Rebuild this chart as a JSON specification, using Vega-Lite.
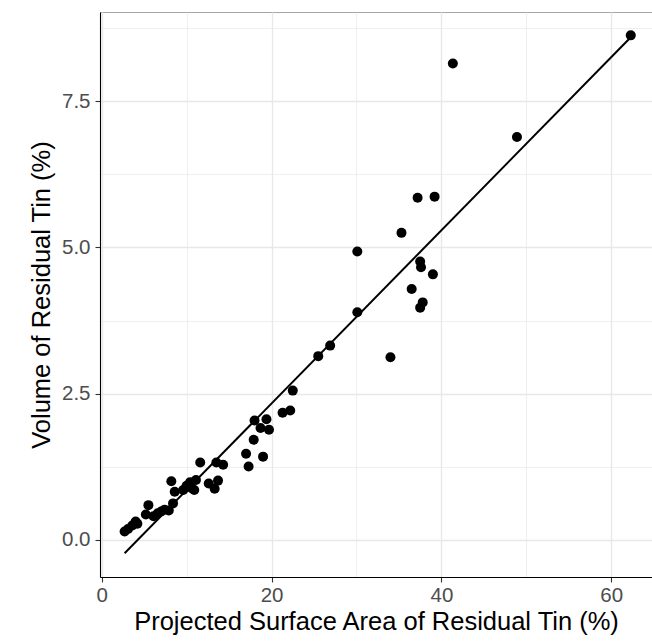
{
  "$schema": "https://vega.github.io/schema/vega-lite/v6.json",
  "width": 552,
  "height": 565,
  "autosize": {"type": "none"},
  "padding": {"left": 100, "top": 12, "right": 0, "bottom": 64},
  "background": "white",
  "config": {
    "font": "Liberation Sans",
    "view": {"stroke": "#a6a6a6", "strokeWidth": 1},
    "axis": {
      "domainColor": "#000000",
      "domainWidth": 1.1,
      "tickColor": "#333333",
      "tickSize": 5,
      "tickWidth": 1.1,
      "labelColor": "#4d4d4d",
      "labelFont": "Liberation Sans",
      "labelFontSize": 20.5,
      "titleFont": "Liberation Sans",
      "titleFontSize": 25.5,
      "titleFontWeight": "normal",
      "titleColor": "#000000",
      "gridColor": "#e8e8e8"
    }
  },
  "data": {
    "values": [
      {"area": 2.7, "volume": 0.14},
      {"area": 3.1, "volume": 0.18},
      {"area": 3.6, "volume": 0.24},
      {"area": 4.0, "volume": 0.31},
      {"area": 4.2, "volume": 0.27},
      {"area": 5.2, "volume": 0.43},
      {"area": 5.5, "volume": 0.59},
      {"area": 6.1, "volume": 0.40},
      {"area": 6.6, "volume": 0.45},
      {"area": 7.0, "volume": 0.48},
      {"area": 7.4, "volume": 0.51},
      {"area": 7.9, "volume": 0.50},
      {"area": 8.4, "volume": 0.62},
      {"area": 8.2, "volume": 1.00},
      {"area": 8.6, "volume": 0.82},
      {"area": 9.6, "volume": 0.85},
      {"area": 10.0, "volume": 0.92},
      {"area": 10.4, "volume": 0.98},
      {"area": 10.9, "volume": 0.85},
      {"area": 11.1, "volume": 1.02},
      {"area": 10.6, "volume": 0.88},
      {"area": 11.6, "volume": 1.32},
      {"area": 12.6, "volume": 0.96},
      {"area": 13.5, "volume": 1.32},
      {"area": 13.7, "volume": 1.01},
      {"area": 13.3, "volume": 0.87},
      {"area": 14.3, "volume": 1.28},
      {"area": 17.0, "volume": 1.47},
      {"area": 17.3, "volume": 1.25},
      {"area": 19.0, "volume": 1.42},
      {"area": 17.9, "volume": 1.71},
      {"area": 18.0, "volume": 2.04},
      {"area": 19.4, "volume": 2.06},
      {"area": 18.7, "volume": 1.91},
      {"area": 19.7, "volume": 1.88},
      {"area": 21.3, "volume": 2.17},
      {"area": 22.2, "volume": 2.21},
      {"area": 22.5, "volume": 2.55},
      {"area": 25.5, "volume": 3.14},
      {"area": 26.9, "volume": 3.32},
      {"area": 30.1, "volume": 3.89},
      {"area": 34.0, "volume": 3.12},
      {"area": 30.1, "volume": 4.93},
      {"area": 35.3, "volume": 5.25},
      {"area": 37.2, "volume": 5.85},
      {"area": 39.2, "volume": 5.87},
      {"area": 37.5, "volume": 4.76},
      {"area": 37.6, "volume": 4.66},
      {"area": 39.0, "volume": 4.54},
      {"area": 36.5, "volume": 4.29},
      {"area": 37.8, "volume": 4.06},
      {"area": 37.5, "volume": 3.97},
      {"area": 41.35, "volume": 8.15},
      {"area": 48.9, "volume": 6.89},
      {"area": 62.3, "volume": 8.63}
    ]
  },
  "encoding": {
    "x": {
      "field": "area",
      "type": "quantitative",
      "title": "Projected Surface Area of Residual Tin (%)",
      "scale": {"domain": [-0.2, 64.8], "nice": false, "zero": false},
      "axis": {
        "values": [0, 10, 20, 30, 40, 50, 60],
        "labelExpr": "datum.value % 20 === 0 ? datum.label : ''",
        "gridWidth": {"condition": {"test": "datum.value % 20 === 0", "value": 1.4}, "value": 0.7},
        "tickOpacity": {"condition": {"test": "datum.value % 20 === 0", "value": 1}, "value": 0},
        "labelPadding": 3,
        "titlePadding": 4
      }
    },
    "y": {
      "field": "volume",
      "type": "quantitative",
      "title": "Volume of Residual Tin (%)",
      "scale": {"domain": [-0.64, 9.03], "nice": false, "zero": false},
      "axis": {
        "values": [0, 1.25, 2.5, 3.75, 5, 6.25, 7.5, 8.75],
        "format": ".1f",
        "labelExpr": "datum.value % 2.5 === 0 ? datum.label : ''",
        "gridWidth": {"condition": {"test": "datum.value % 2.5 === 0", "value": 1.4}, "value": 0.7},
        "tickOpacity": {"condition": {"test": "datum.value % 2.5 === 0", "value": 1}, "value": 0},
        "labelPadding": 5,
        "titlePadding": 7
      }
    }
  },
  "layer": [
    {
      "mark": {"type": "point", "filled": true, "shape": "circle", "size": 100, "color": "#000000", "opacity": 1}
    },
    {
      "transform": [{"regression": "volume", "on": "area", "method": "linear"}],
      "mark": {"type": "line", "color": "#000000", "strokeWidth": 2}
    }
  ]
}
